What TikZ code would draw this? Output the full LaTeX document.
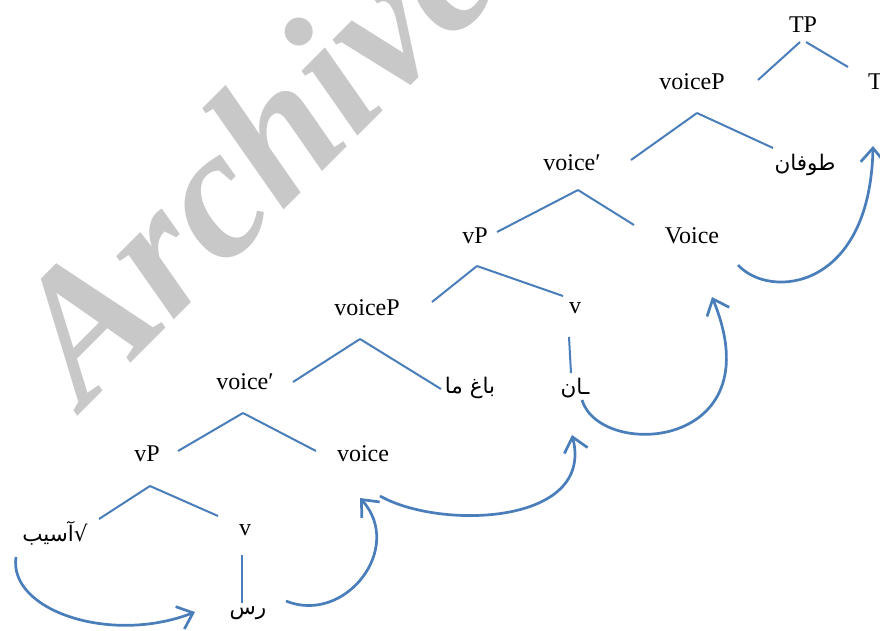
\documentclass[tikz,border=0pt]{standalone}
\usepackage{fontspec}
\setmainfont{Liberation Serif}
\newfontfamily\arabicfont[Script=Arabic]{DejaVu Sans}
\TeXXeTstate=1
\usetikzlibrary{arrows.meta}
\definecolor{treeblue}{HTML}{4A7EBB}
\definecolor{markgray}{HTML}{C8C8C8}

\begin{document}
\begin{tikzpicture}[x=1pt,y=-1pt,
  lab/.style={inner sep=0pt, font=\fontsize{24}{28}\selectfont},
  fa/.style={inner sep=0pt, font=\arabicfont\fontsize{21.5}{26}\selectfont},
  branch/.style={draw=treeblue, line width=2pt},
  move/.style={draw=treeblue, line width=2.7pt,
    -{Straight Barb[length=14pt,width=24pt]}},
  wmark/.style={anchor=base west, rotate=45, inner sep=0pt, text=markgray,
    font=\bfseries\itshape\fontsize{186}{186}\selectfont},
]
\useasboundingbox (0,0) rectangle (880,630);

% watermark
\node[wmark] (wm) at (84,410) {Archive};

% labels
\node[lab] (TP)    at (803,25)  {TP};
\node[lab] (vpT)   at (692,82)  {voiceP};
\node[lab, anchor=west] (T) at (868,82) {T};
\node[lab] (vbarT) at (572,163) {voice′};
\node[fa]  (tufan) at (805,165) {\beginR طوفان\endR};
\node[lab] (vPT)   at (475,236) {vP};
\node[lab] (VoiceT) at (692,236) {Voice};
\node[lab] (vpM)   at (367,308) {voiceP};
\node[lab] (vM)    at (575,308) {v};
\node[lab] (vbarM) at (245,382) {voice′};
\node[fa]  (bagh)  at (470,388) {\beginR باغ ما\endR};
\node[fa]  (an)    at (575,388) {\beginR ـان\endR};
\node[lab] (vPL)   at (147,454) {vP};
\node[lab] (voiceL) at (363,454) {voice};
\node[fa]  (asib)  at (55,533)  {\beginR √آسیب\endR};
\node[lab] (vL)    at (245,530) {v};
\node[fa]  (ras)   at (248,613) {\beginR رس\endR};

% branches
\draw[branch] ([shift={(-3,17)}]TP.center) -- ([shift={(66,-2)}]vpT.center);
\draw[branch] ([shift={(3,17)}]TP.center) -- ([shift={(-20,-15)}]T.west);
\draw[branch] ([shift={(5,31)}]vpT.center) -- ([shift={(59,-3)}]vbarT.center);
\draw[branch] ([shift={(5,31)}]vpT.center) -- ([shift={(-32,-17)}]tufan.center);
\draw[branch] ([shift={(6,27)}]vbarT.center) -- ([shift={(22,-4)}]vPT.center);
\draw[branch] ([shift={(6,27)}]vbarT.center) -- ([shift={(-58,-11)}]VoiceT.center);
\draw[branch] ([shift={(2,30)}]vPT.center) -- ([shift={(65,-6)}]vpM.center);
\draw[branch] ([shift={(2,30)}]vPT.center) -- ([shift={(-12,-12)}]vM.center);
\draw[branch] ([shift={(-7,31)}]vpM.center) -- ([shift={(48,0)}]vbarM.center);
\draw[branch] ([shift={(-7,31)}]vpM.center) -- ([shift={(-29,1)}]bagh.center);
\draw[branch] ([shift={(-2,31)}]vbarM.center) -- ([shift={(31,-3)}]vPL.center);
\draw[branch] ([shift={(-2,31)}]vbarM.center) -- ([shift={(-47,-3)}]voiceL.center);
\draw[branch] ([shift={(3,32)}]vPL.center) -- ([shift={(44,-14)}]asib.center);
\draw[branch] ([shift={(3,32)}]vPL.center) -- ([shift={(-27,-14)}]vL.center);
\draw[branch] ([shift={(-3,25)}]vL.center) -- ([shift={(-6,-10)}]ras.center);
\draw[branch] ([shift={(-6,29)}]vM.center) -- ([shift={(-4,-15)}]an.center);

% head movement
\draw[move] ([shift={(-39,24)}]asib.center)
  .. controls +(-8,53) and +(-85,33) .. ([shift={(-53,-1)}]ras.center);
\draw[move] ([shift={(38,-12)}]ras.center)
  .. controls +(59,24) and +(45,50) .. ([shift={(-3,44)}]voiceL.center);
\draw[move] ([shift={(17,42)}]voiceL.center)
  .. controls +(60,34) and +(23,90) .. ([shift={(-3,47)}]an.center);
\draw[move] ([shift={(7,12)}]an.center)
  .. controls +(18,60) and +(63,153) .. ([shift={(20,61)}]VoiceT.center);
\draw[move] ([shift={(46,29)}]VoiceT.center)
  .. controls +(32,35) and +(-3,144) .. ([shift={(5,64)}]T.west);
\end{tikzpicture}
\end{document}
